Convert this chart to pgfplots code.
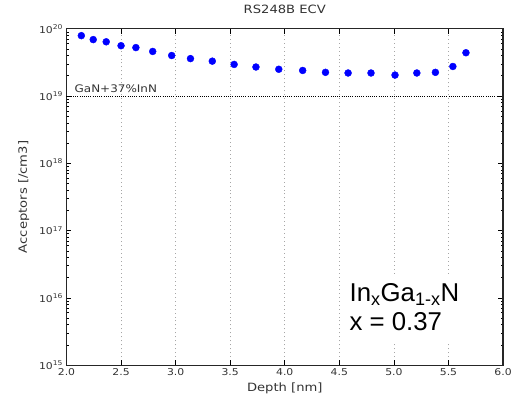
\documentclass[border=0pt]{standalone}
\usepackage{fontspec}
\setmainfont[FakeStretch=1.15]{DejaVu Sans}
\newfontfamily\arial{Liberation Sans}
\usepackage{pgfplots}
\pgfplotsset{compat=1.18}
\begin{document}
\begin{tikzpicture}
\begin{axis}[
  scale only axis, width=440pt, height=339pt,
  at={(0,0)}, anchor=south west,
  xmin=2, xmax=6, ymode=log, ymin=1e15, ymax=1e20,
  xtick={2,2.5,3,3.5,4,4.5,5,5.5,6},
  xticklabel style={/pgf/number format/fixed, /pgf/number format/fixed zerofill, /pgf/number format/precision=1, /pgf/number format/assume math mode=true, font=\fontsize{9.5}{12}\selectfont, text=black!80},
  ytick={1e15,1e16,1e17,1e18,1e19,1e20},
  yticklabels={10\textsuperscript{15},10\textsuperscript{16},10\textsuperscript{17},10\textsuperscript{18},10\textsuperscript{19},10\textsuperscript{20}},
  yticklabel style={font=\fontsize{9.5}{12}\selectfont, text=black!80},
  tick align=inside,
  major tick length=5pt, minor tick length=2.5pt,
  tick style={black, line width=0.6pt},
  axis line style={black!85, line width=1.2pt},
  xmajorgrids,
  grid style={black!35, line width=0.6pt, dash pattern=on 1pt off 3pt},
  xlabel={Depth [nm]},
  ylabel={Acceptors [/cm3]},
  label style={font=\fontsize{11.5}{14}\selectfont, text=black!80},
  xlabel style={at={(rel axis cs:0.5,0)}, anchor=base, yshift=-27pt},
  ylabel style={at={(rel axis cs:0,0.5)}, anchor=base, rotate=0, yshift=40pt},
  title={RS248B ECV},
  title style={at={(rel axis cs:0.5,1)}, anchor=base, yshift=9.5pt, font=\fontsize{11.5}{14}\selectfont, text=black!80},
  clip=false,
]
\addplot[black, line width=0.8pt, dash pattern=on 1pt off 1.2pt, forget plot] coordinates {(2,1e19) (6,1e19)};
\addplot[only marks, mark=*, mark size=3.5pt, color={rgb,255:red,0;green,0;blue,255}] coordinates {
(2.136,7.9e19) (2.245,6.9e19) (2.364,6.4e19) (2.5,5.6e19) (2.636,5.25e19)
(2.79,4.6e19) (2.964,4.0e19) (3.136,3.6e19) (3.336,3.3e19) (3.536,2.95e19)
(3.736,2.7e19) (3.945,2.5e19) (4.164,2.4e19) (4.373,2.25e19) (4.58,2.2e19)
(4.79,2.2e19) (5.01,2.05e19) (5.21,2.2e19) (5.38,2.25e19) (5.54,2.75e19)
(5.66,4.4e19)};
\fill[white] (rel axis cs:0.632,0.065) rectangle (rel axis cs:0.916,0.271);
\node[anchor=base west, inner sep=0, font=\fontsize{10.5}{13}\selectfont, text=black!80] at ([yshift=4pt]axis cs:2.073,1e19) {GaN+37\%InN};
\node[anchor=base west, inner sep=0, font=\arial\fontsize{26}{30}\selectfont] at (rel axis cs:0.648,0.189) {In\textsubscript{x}Ga\textsubscript{1-x}N};
\node[anchor=base west, inner sep=0, font=\arial\fontsize{26}{30}\selectfont] at (rel axis cs:0.648,0.103) {x = 0.37};
\end{axis}
\path (-67pt,-35pt) rectangle (448pt,368pt);
\end{tikzpicture}
\end{document}
